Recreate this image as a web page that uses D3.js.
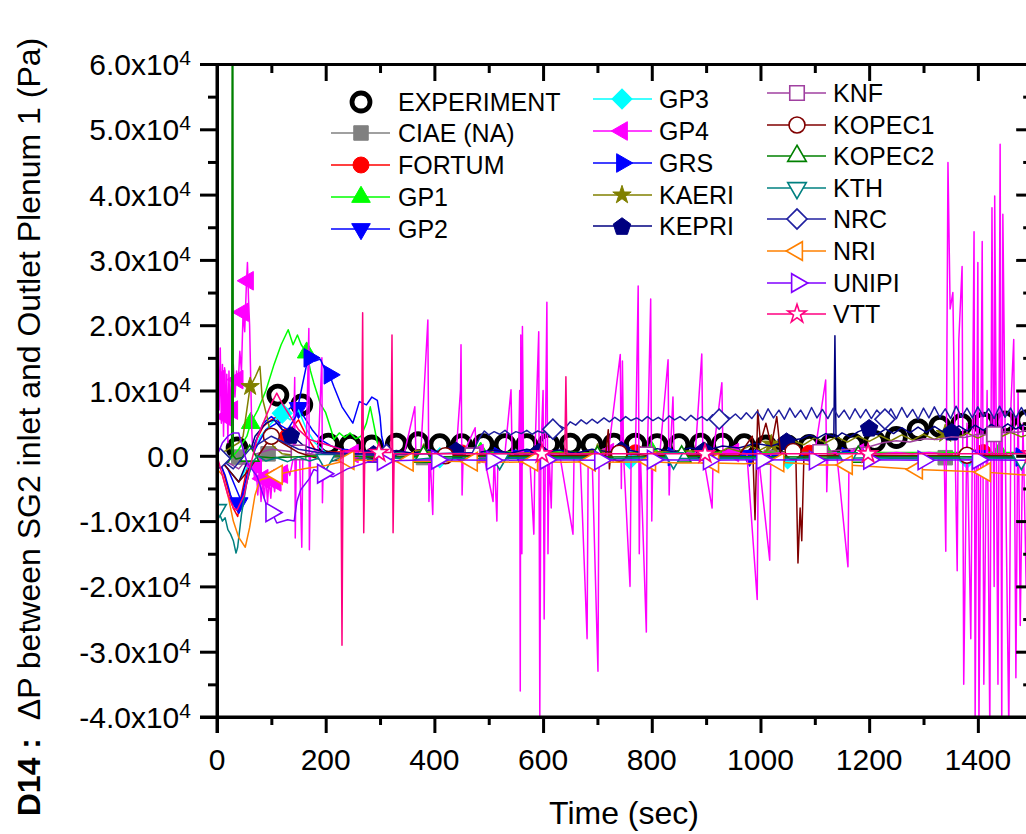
<!DOCTYPE html>
<html><head><meta charset="utf-8">
<script src="https://cdn.jsdelivr.net/npm/d3@7"></script>
<style>
body{margin:0;background:#fff}
svg{display:block}
text{font-family:Arial,"Liberation Sans",Helvetica,sans-serif;fill:#000}
</style>
</head><body>
<svg id="chart" width="1026" height="834"></svg>
<script>
// ---------------- DATA ----------------
const xTicks = [0,200,400,600,800,1000,1200,1400];
const xMinorTicks = [100,300,500,700,900,1100,1300,1500];
const yTicks = [-40000,-30000,-20000,-10000,0,10000,20000,30000,40000,50000,60000];
const yMinorTicks = [-35000,-25000,-15000,-5000,5000,15000,25000,35000,45000,55000];
const yTickMantissa = ["-4.0","-3.0","-2.0","-1.0","0.0","1.0","2.0","3.0","4.0","5.0","6.0"];
const yTickExponent = ["4","4","4","4","","4","4","4","4","4","4"];

const seriesNames = ["EXPERIMENT","CIAE (NA)","FORTUM","GP1","GP2","GP3","GP4","GRS","KAERI","KEPRI","KNF","KOPEC1","KOPEC2","KTH","NRC","NRI","UNIPI","VTT"];

const expData = [[37,1200],[112,9300],[156,7800],[205,1800],[245,1600],[285,1500],[330,1800],[370,2000],[410,1700],[450,1700],[490,1700],[530,1700],[570,1700],[610,1800],[650,1800],[690,1700],[730,1800],[770,1800],[810,1700],[850,1700],[890,1800],[930,1800],[970,1700],[1010,1500],[1050,1500],[1090,1600],[1130,1700],[1170,1800],[1210,2200],[1250,2800],[1290,4000],[1330,4500],[1370,4800],[1410,5000],[1450,5200],[1490,5400]];

const ciaeData = [[0,0],[10,-600],[20,-300],[30,400],[40,-200],[50,-800],[60,-300],[70,200],[80,0],[94,300],[110,-300],[130,100],[150,-200],[180,0],[220,-300],[280,-200],[350,-300],[450,-200],[550,-300],[650,-200],[750,-300],[850,-200],[950,-300],[1050,-200],[1150,-300],[1250,-200],[1350,-300],[1450,-200],[1500,-300]];

const fortumData = [[0,0],[10,-2000],[20,-5000],[30,-8000],[38,-9300],[45,-6000],[55,-2000],[70,2000],[85,4500],[100,5500],[110,6000],[120,4000],[130,3000],[140,4500],[150,5500],[165,3000],[180,1000],[200,500],[250,700],[300,400],[400,300],[500,600],[600,600],[700,400],[800,500],[900,400],[1000,500],[1100,400],[1200,500],[1300,400],[1400,500],[1500,400]];

const gp1Data = [[0,0],[20,-1000],[40,1000],[55,3000],[62,5000],[75,7000],[90,10000],[105,14000],[118,17000],[131,19300],[140,17000],[148,18500],[155,17000],[165,15800],[172,13000],[178,11200],[190,8000],[200,6600],[210,4000],[215,2500],[225,3500],[235,2800],[245,3500],[255,2600],[265,3000],[275,5000],[282,7500],[288,5000],[295,2000],[305,500],[400,300],[600,700],[700,400],[800,600],[1000,500],[1200,500],[1500,500]];

const gp2Data = [[0,0],[15,-3000],[25,-6000],[35,-8000],[45,-6500],[55,-3000],[70,2000],[85,5000],[100,6000],[115,5000],[130,7000],[145,8000],[160,6000],[175,4000],[190,2500],[210,1500],[230,1000],[260,800],[300,300],[400,100],[600,0],[800,100],[1000,0],[1200,0],[1500,0]];

const gp3Data = [[0,0],[20,-2000],[40,-4000],[60,-1000],[80,3000],[100,5000],[120,6500],[135,5500],[150,7000],[165,4000],[180,2000],[200,500],[250,0],[300,-200],[400,-300],[600,-400],[800,-500],[1000,-500],[1200,-400],[1500,-400]];

const gp4Data = [[0,10000],[2,15000],[4,7000],[6,16500],[8,5000],[10,14000],[12,3000],[14,13500],[16,6000],[18,12500],[20,2000],[22,13000],[24,5000],[26,12000],[28,7000],[30,14000],[33,9000],[36,13000],[39,11000],[42,16000],[45,13000],[48,22000],[51,19000],[54,26000],[56,29600],[58,24000],[60,20000],[62,12000],[64,4000],[66,0],[69,-3500],[72,-1500],[75,-6000],[78,-2500],[81,-7000],[84,-3500],[87,-6500],[90,-3000],[93,-7200],[96,-3500],[99,-6500],[102,-3000],[106,-5500],[110,-2500],[114,-5000],[118,-2000],[123,-4000],[128,-1500],[134,-3000],[140,-500],[143,12000],[144,-12600],[146,500],[152,300],[156,-14000],[158,300],[164,500],[169,19500],[170,-14400],[172,300],[180,800],[186,200],[193,15000],[194,-7200],[196,300],[210,500],[225,300],[240,600],[255,200],[280,500],[300,300],[318,600],[330,200],[345,500],[364,7500],[366,300],[375,500],[388,20800],[390,-7000],[392,300],[397,-9000],[399,300],[420,500],[440,300],[448,10000],[449,17000],[451,-6000],[453,300],[475,4300],[477,300],[490,500],[508,-7000],[510,300],[515,-10000],[517,300],[530,500],[541,10100],[543,300],[555,500],[557,10000],[558,-36000],[559,18500],[561,-15000],[562,19800],[564,300],[575,500],[583,-12000],[585,300],[592,19000],[594,-40000],[596,300],[600,10000],[602,-25000],[604,300],[607,23500],[609,-15000],[611,300],[615,-8000],[617,300],[630,500],[655,-12000],[657,300],[668,500],[681,-28000],[683,300],[690,500],[701,-33000],[703,300],[720,500],[742,15500],[744,-5000],[746,14500],[748,300],[760,-20000],[762,300],[770,500],[775,26000],[777,-15000],[779,300],[790,-27000],[792,300],[798,24000],[800,-10000],[802,300],[815,500],[830,14700],[832,-6000],[834,300],[839,9000],[841,300],[860,500],[880,300],[892,15600],[894,300],[911,-8000],[913,300],[929,11200],[931,300],[950,500],[975,300],[994,-22000],[996,300],[1017,-16000],[1019,300],[1040,500],[1070,300],[1100,500],[1120,11600],[1122,-5500],[1124,300],[1140,500],[1161,-17000],[1163,300],[1190,500],[1220,300],[1250,500],[1280,300],[1310,500],[1338,300],[1341,-14600],[1345,44900],[1349,22500],[1354,25000],[1358,2000],[1362,-17600],[1365,17800],[1371,29000],[1374,-35000],[1380,5000],[1387,-28000],[1393,34300],[1395,-40000],[1400,29600],[1402,-42000],[1408,32800],[1411,-35000],[1417,10000],[1422,-42000],[1426,38000],[1430,-20000],[1431,39800],[1437,-35000],[1441,47700],[1444,-42000],[1446,37000],[1452,-10000],[1457,-42000],[1461,8000],[1466,17800],[1470,-34000],[1474,10000],[1478,-26000],[1483,5000],[1489,-20000],[1495,8000],[1500,-5000]];

const grsData = [[0,0],[20,-2000],[35,-5000],[45,-7000],[55,-4000],[70,1000],[90,4000],[110,5000],[130,4000],[145,6000],[155,10000],[165,14000],[170,15000],[180,14500],[190,14800],[200,13000],[207,12400],[215,10600],[230,7500],[250,5000],[262,8300],[275,7800],[285,9000],[295,8500],[300,6000],[303,3000],[310,500],[400,0],[600,-200],[800,-100],[1000,-200],[1200,-100],[1500,-200]];

const kaeriData = [[0,0],[20,1000],[40,2000],[48,3000],[61,10600],[70,12000],[79,13700],[83,9000],[92,6000],[103,1500],[120,300],[150,0],[200,200],[300,300],[400,400],[500,300],[600,500],[700,400],[800,600],[900,800],[920,400],[940,1200],[960,700],[980,1500],[1000,900],[1020,1800],[1040,1200],[1060,2300],[1080,1700],[1100,2800],[1120,2000],[1140,2900],[1160,2100],[1180,3000],[1200,2200],[1220,3100],[1240,2300],[1260,3200],[1280,2400],[1300,3300],[1320,2500],[1340,3400],[1360,2600],[1380,3500],[1400,2700],[1420,3500],[1440,2800],[1460,3600],[1480,2900],[1500,3500]];

const kepriData = [[0,0],[20,-2000],[40,-4000],[55,-1000],[70,3000],[90,5000],[105,5500],[120,4000],[140,3000],[160,1500],[200,500],[250,300],[300,300],[330,800],[360,400],[390,900],[420,500],[450,1000],[480,500],[510,900],[540,400],[570,1000],[600,500],[630,900],[660,400],[690,1000],[720,600],[750,1000],[780,500],[810,1100],[840,600],[870,1200],[900,800],[930,1500],[960,1200],[990,1900],[1020,1500],[1050,2300],[1075,2600],[1090,3200],[1105,2700],[1120,3400],[1135,3000],[1137,18400],[1139,2800],[1150,3500],[1165,2900],[1180,3700],[1200,4300],[1215,3300],[1230,4100],[1245,3400],[1260,4300],[1275,3500],[1290,4400],[1305,3600],[1320,4500],[1335,3700],[1352,3700],[1365,4600],[1380,3800],[1395,4700],[1410,3900],[1425,4800],[1440,4000],[1455,4900],[1470,4100],[1485,4800],[1500,4200]];

const knfData = [[0,0],[20,-1000],[40,-2000],[60,0],[100,1000],[150,500],[200,0],[300,-100],[400,0],[500,100],[600,100],[700,200],[800,200],[900,300],[1000,300],[1100,500],[1150,900],[1200,1400],[1225,2000],[1250,2300],[1275,2100],[1300,2600],[1325,2500],[1350,2900],[1375,2800],[1400,3300],[1425,3200],[1450,3700],[1475,3600],[1500,4100]];

const kopec1Data = [[0,0],[20,-2000],[40,-4000],[60,-2000],[80,500],[100,3000],[120,2000],[150,500],[200,-800],[250,-600],[300,-200],[400,0],[500,100],[600,0],[700,100],[715,0],[720,4000],[722,-2000],[725,500],[800,0],[900,100],[960,0],[985,3000],[990,-9800],[995,7000],[1000,2000],[1010,5000],[1020,1500],[1030,6000],[1040,-2000],[1050,1000],[1065,500],[1069,-16400],[1073,-8000],[1076,-13000],[1080,0],[1100,0],[1200,100],[1300,0],[1400,100],[1500,0]];

const kopec2Data = [[0,0],[20,-1000],[27,0],[28,70000],[29,80000],[30,0],[35,-500],[60,0],[100,-300],[200,0],[300,-200],[500,-100],[700,-200],[900,-100],[1100,-200],[1300,-100],[1500,-200]];

const kthData = [[0,-8300],[5,-9000],[10,-10000],[15,-9500],[20,-11300],[25,-12000],[30,-13000],[35,-14900],[38,-14000],[45,-9000],[55,-4000],[65,-1000],[75,0],[90,-800],[110,-300],[130,-900],[150,-200],[170,-800],[190,-300],[210,-900],[230,-200],[250,-800],[270,-300],[290,-700],[320,-300],[360,-600],[400,-300],[500,-500],[600,-300],[700,-500],[800,-300],[900,-500],[1000,-300],[1100,-500],[1200,-300],[1300,-500],[1400,-300],[1500,-500]];

const nrcData = [[0,0],[30,-2000],[60,1000],[100,3000],[150,1000],[200,300],[300,200],[400,300],[470,500],[485,3000],[492,3800],[500,3200],[510,3700],[520,3300],[530,3900],[540,3200],[550,3700],[560,3400],[570,3900],[580,3300],[590,3800],[600,3500],[612,4300],[620,4000],[630,4600],[640,4200],[650,5200],[660,4700],[670,5500],[680,4900],[690,5600],[700,5000],[712,5800],[722,5200],[732,5900],[742,5300],[752,6000],[762,5400],[772,5800],[782,5300],[792,6000],[802,5400],[812,5900],[822,5300],[832,6100],[842,5500],[852,6000],[862,5400],[872,6200],[882,5500],[892,6000],[902,5400],[912,6300],[924,5600],[934,6300],[944,5700],[954,6400],[964,5600],[974,6600],[984,5700],[994,6800],[1004,5500],[1014,7200],[1024,5800],[1034,7000],[1044,5600],[1054,7300],[1064,5900],[1074,7000],[1084,5600],[1094,7400],[1104,5800],[1114,7100],[1124,5700],[1134,7300],[1144,5900],[1154,7000],[1164,5600],[1174,7200],[1184,5800],[1194,7100],[1204,5700],[1214,7000],[1229,5600],[1240,7200],[1250,5700],[1260,7400],[1270,5900],[1280,7100],[1290,5600],[1300,7300],[1310,5800],[1320,7500],[1330,5900],[1340,7200],[1350,5700],[1360,7600],[1370,5900],[1380,7300],[1390,5800],[1400,7500],[1410,6000],[1420,7200],[1430,5700],[1440,7600],[1450,5900],[1460,7300],[1470,5800],[1480,7400],[1490,6000],[1500,7000]];

const nriData = [[0,-2000],[10,-3000],[20,-6000],[30,-10000],[40,-12500],[52,-14000],[60,-11000],[70,-6000],[79,-3700],[95,-3300],[110,-2900],[130,-2500],[160,-2000],[200,-1500],[245,-600],[300,-800],[351,-900],[400,-800],[469,-900],[520,-1000],[580,-900],[640,-1000],[686,-900],[740,-1000],[797,-900],[850,-1100],[913,-1100],[970,-1200],[1033,-1000],[1080,-1200],[1100,-1400],[1159,-1400],[1220,-1700],[1288,-2100],[1350,-2300],[1413,-2500],[1460,-2800],[1500,-3000]];

const unipiData = [[0,0],[10,2000],[20,3000],[30,3500],[40,3500],[48,1000],[55,-1000],[74,-3200],[92,-7800],[103,-9000],[110,-10300],[130,-9800],[142,-10000],[147,-7000],[154,-5200],[170,-3500],[178,-2100],[190,-2500],[200,-3000],[214,-3200],[240,-2000],[276,-1000],[300,-800],[400,-600],[500,-700],[600,-600],[700,-700],[800,-600],[900,-700],[1000,-600],[1100,-700],[1200,-600],[1300,-700],[1400,-600],[1500,-700]];

const vttData = [[0,0],[10,-3000],[20,-6000],[30,-8000],[37,-8300],[50,-6000],[60,-2000],[75,3000],[90,6000],[100,8000],[110,9600],[120,8000],[135,6000],[150,4000],[170,2500],[190,2000],[210,1500],[228,1000],[230,-29000],[232,800],[266,700],[268,21900],[270,-11800],[272,500],[320,500],[322,18500],[324,-11800],[326,300],[400,300],[500,300],[640,300],[642,12100],[644,300],[800,300],[1000,300],[1200,300],[1500,300]];

// marker times (sampling positions of symbols along each curve)
const seriesMarks = [
  null,
  [40,94,380,700,1020,1340],
  [130,450,770,1090,1410],
  [62,165,485,800,1120,1440],
  [40,150,560,980,1400],
  [120,410,760,1050,1380],
  [5,16,28,38,48,57,72,84,96,108,120,250,480,720,950,1180],
  [170,207,520,840,1160,1480],
  [61,380,700,1020,1340],
  [136,288,440,592,744,896,1048,1200,1352],
  [150,470,790,1110,1430],
  [100,420,740,1060,1380],
  [60,380,700,855,1180],
  [0,200,520,840,1160,1480],
  [6,312,618,924,1229],
  [110,242,351,469,580,686,797,913,1033,1159,1288,1413],
  [100,195,305,405,506,605,705,802,905,1003,1100,1200,1300,1400],
  [298,598,898,1198,1498]
];

// ---------------- STYLE ----------------
const allData = [expData,ciaeData,fortumData,gp1Data,gp2Data,gp3Data,gp4Data,grsData,kaeriData,kepriData,knfData,kopec1Data,kopec2Data,kthData,nrcData,nriData,unipiData,vttData];
const colors = ["#000000","#808080","#ff0000","#00ff00","#0000ff","#00ffff","#ff00ff","#0000ff","#808000","#000080","#a040a0","#800000","#008000","#008080","#2020a0","#ff8000","#8000ff","#ff0080"];
const shapes = ["expCircle","square","circle","triUp","triDown","diamond","triLeft","triRight","star","pentagon","square","circle","triUp","triDown","diamond","triLeft","triRight","star"];
const filled = [false,true,true,true,true,true,true,true,true,true,false,false,false,false,false,false,false,false];

// ---------------- CHART ----------------
const svg = d3.select("#chart");
const X0 = 217, X1 = 1032.2, Y0 = 717, Y1 = 64;
const x = d3.scaleLinear().domain([0,1500]).range([X0,X1]);
const y = d3.scaleLinear().domain([-40000,60000]).range([Y0,Y1]);

svg.append("defs").append("clipPath").attr("id","clip")
  .append("rect").attr("x",X0).attr("y",Y1).attr("width",X1-X0).attr("height",Y0-Y1);

const pentagon = {draw(ctx,size){const r=Math.sqrt(size/2.3776);for(let k=0;k<5;k++){const a=-Math.PI/2+k*2*Math.PI/5;const px=r*Math.cos(a),py=r*Math.sin(a)+r*0.1;if(k===0)ctx.moveTo(px,py);else ctx.lineTo(px,py);}ctx.closePath();}};
function symbolSpec(kind){
  switch(kind){
    case "square": return {t:d3.symbolSquare,s:210,r:0};
    case "circle": return {t:d3.symbolCircle,s:200,r:0};
    case "triUp": return {t:d3.symbolTriangle,s:150,r:0};
    case "triDown": return {t:d3.symbolTriangle,s:150,r:180};
    case "triLeft": return {t:d3.symbolTriangle,s:150,r:-90};
    case "triRight": return {t:d3.symbolTriangle,s:150,r:90};
    case "diamond": return {t:d3.symbolSquare,s:200,r:45};
    case "star": return {t:d3.symbolStar,s:105,r:0};
    case "pentagon": return {t:pentagon,s:200,r:0};
  }
}
function drawMarker(g,kind,px,py,color,isFilled){
  if(kind==="expCircle"){
    g.append("circle").attr("cx",px).attr("cy",py).attr("r",9).attr("fill","none").attr("stroke","#000").attr("stroke-width",4.8);
    return;
  }
  const sp = symbolSpec(kind);
  g.append("path").attr("d",d3.symbol().type(sp.t).size(sp.s)())
    .attr("transform",`translate(${px},${py}) rotate(${sp.r})`)
    .attr("fill",isFilled?color:"#fff").attr("stroke",color).attr("stroke-width",isFilled?1:1.6);
}
function valueAt(data,t){
  const i = d3.bisector(d=>d[0]).left(data,t);
  if(i<=0) return data[0][1];
  if(i>=data.length) return data[data.length-1][1];
  const a=data[i-1], b=data[i];
  return a[1]+(b[1]-a[1])*(t-a[0])/(b[0]-a[0]);
}

const plot = svg.append("g").attr("clip-path","url(#clip)");
const line = d3.line().x(d=>x(d[0])).y(d=>y(d[1]));

allData.forEach((data,i)=>{
  const g = plot.append("g");
  if(i===0){
    data.forEach(d=>drawMarker(g,"expCircle",x(d[0]),y(d[1])));
    return;
  }
  g.append("path").datum(data).attr("d",line).attr("fill","none")
    .attr("stroke",colors[i]).attr("stroke-width",1.5).attr("stroke-linejoin","round");
  seriesMarks[i].forEach(t=>drawMarker(g,shapes[i],x(t),y(valueAt(data,t)),colors[i],filled[i]));
});

// ---------------- AXES ----------------
function styleAxis(g){g.select(".domain").attr("stroke","#000").attr("stroke-width",3);g.selectAll(".tick line").attr("stroke","#000").attr("stroke-width",3);g.selectAll("text").remove();}
svg.append("g").attr("transform",`translate(0,${Y0})`).call(d3.axisBottom(x).tickValues(xTicks).tickSize(16).tickSizeOuter(0)).call(styleAxis);
svg.append("g").attr("transform",`translate(0,${Y0})`).call(d3.axisBottom(x).tickValues(xMinorTicks).tickSize(8).tickSizeOuter(0)).call(styleAxis);
svg.append("g").attr("transform",`translate(0,${Y1})`).call(d3.axisTop(x).tickValues(xTicks).tickSize(-17).tickSizeOuter(0)).call(styleAxis);
svg.append("g").attr("transform",`translate(0,${Y1})`).call(d3.axisTop(x).tickValues(xMinorTicks).tickSize(-9).tickSizeOuter(0)).call(styleAxis);
svg.append("g").attr("transform",`translate(${X0},0)`).call(d3.axisLeft(y).tickValues(yTicks).tickSize(17).tickSizeOuter(0)).call(styleAxis);
svg.append("g").attr("transform",`translate(${X0},0)`).call(d3.axisLeft(y).tickValues(yMinorTicks).tickSize(9).tickSizeOuter(0)).call(styleAxis);
svg.append("g").attr("transform",`translate(${X1},0)`).call(d3.axisRight(y).tickValues(yTicks).tickSize(-16).tickSizeOuter(0)).call(styleAxis);
svg.append("g").attr("transform",`translate(${X1},0)`).call(d3.axisRight(y).tickValues(yMinorTicks).tickSize(-9).tickSizeOuter(0)).call(styleAxis);
svg.append("line").attr("x1",X0-17).attr("x2",X1).attr("y1",Y0).attr("y2",Y0).attr("stroke","#000").attr("stroke-width",3);
svg.append("line").attr("x1",X0).attr("x2",X0).attr("y1",Y1-1).attr("y2",Y0+16).attr("stroke","#000").attr("stroke-width",3);

// x tick labels
svg.append("g").selectAll("text").data(xTicks).join("text")
  .attr("x",d=>x(d)).attr("y",770).attr("text-anchor","middle").attr("font-size",30).text(d=>d);
// y tick labels
const yl = svg.append("g").selectAll("text").data(yTicks).join("text")
  .attr("x",(d,i)=>yTickExponent[i]?191:189).attr("y",d=>y(d)+11).attr("text-anchor","end").attr("font-size",30);
yl.append("tspan").text((d,i)=>yTickMantissa[i]+(yTickExponent[i]?"x10":""));
yl.append("tspan").attr("dy",-10).attr("font-size",21).text((d,i)=>yTickExponent[i]);

// axis titles
svg.append("text").attr("x",624).attr("y",824).attr("text-anchor","middle").attr("font-size",32).text("Time (sec)");
const yt = svg.append("text").attr("transform","translate(40,427) rotate(-90)").attr("text-anchor","middle").attr("font-size",32);
yt.append("tspan").attr("font-weight","bold").text("D14 :");
yt.append("tspan").text("\u00a0 \u0394P between SG2 inlet and Outlet Plenum 1 (Pa)");

// ---------------- LEGEND ----------------
const legendCols = [
  {x1:331,x2:390,mx:361,tx:398,rows:[102,133,165,197,229],items:[0,1,2,3,4]},
  {x1:593,x2:652,mx:622,tx:659,rows:[99,131,163,195,226],items:[5,6,7,8,9]},
  {x1:767,x2:826,mx:797,tx:833,rows:[93,125,156,188,219,251,283,314],items:[10,11,12,13,14,15,16,17]}
];
const lg = svg.append("g");
legendCols.forEach(c=>{
  c.items.forEach((si,k)=>{
    const ry = c.rows[k];
    if(si!==0) lg.append("line").attr("x1",c.x1).attr("x2",c.x2).attr("y1",ry).attr("y2",ry).attr("stroke",colors[si]).attr("stroke-width",1.5);
    drawMarker(lg,shapes[si],c.mx,ry,colors[si],filled[si]);
    lg.append("text").attr("x",c.tx).attr("y",ry+9).attr("font-size",25).text(seriesNames[si]);
  });
});
</script>
</body></html>
